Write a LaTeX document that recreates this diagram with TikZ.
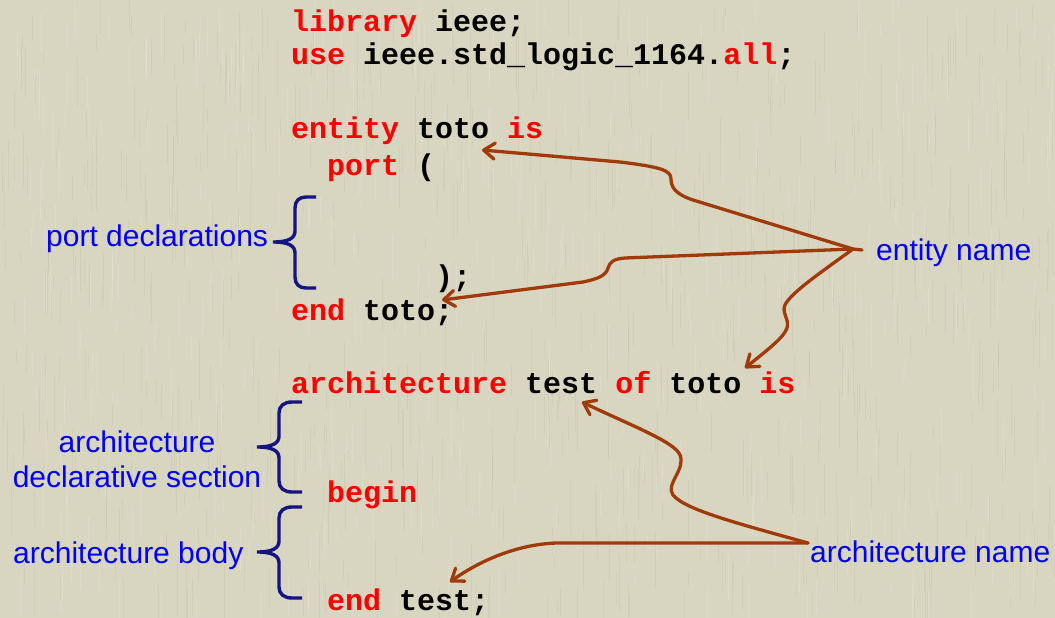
\documentclass[tikz,border=0pt]{standalone}
\usepackage{fontspec}
\setmainfont{Liberation Sans}
\newfontfamily\codefont{Liberation Mono}
\usetikzlibrary{arrows.meta}
\definecolor{bgc}{RGB}{216,214,192}
\definecolor{bgdark}{RGB}{190,188,162}
\definecolor{bglight}{RGB}{232,231,214}
\definecolor{kwred}{RGB}{255,0,0}
\definecolor{lblue}{RGB}{0,0,255}
\definecolor{brnavy}{RGB}{20,20,130}
\definecolor{arrbrown}{RGB}{160,58,10}
\newcommand{\kw}[1]{\textcolor{kwred}{#1}}
\begin{document}
\begin{tikzpicture}[x=1pt,y=-1pt,
  code/.style={anchor=base west, inner sep=0pt, font=\codefont\bfseries\fontsize{30}{36}\selectfont, text=black},
  lbl/.style={anchor=base west, inner sep=0pt, font=\fontsize{30}{35}\selectfont, text=lblue},
  lblc/.style={anchor=base, inner sep=0pt, font=\fontsize{30}{35}\selectfont, text=lblue},
  arr/.style={draw=arrbrown, line width=3.3pt, line cap=round, line join=round, -{Straight Barb[length=11pt,width=16pt,line cap=round,line join=round]}},
  bracepath/.style={draw=brnavy, line width=3.4pt},
  streakd/.style={draw=bgdark, line width=1pt, opacity=0.25},
  streakl/.style={draw=bglight, line width=1pt, opacity=0.35},
]
\fill[bgc] (0,0) rectangle (1055,618);
\useasboundingbox (0,0) rectangle (1055,618);
% paper texture
\pgfmathsetseed{7}
\foreach \i in {1,...,700}{
  \pgfmathsetmacro{\sx}{random(0,1055)}
  \pgfmathsetmacro{\sy}{random(0,600)}
  \pgfmathsetmacro{\sl}{random(10,60)}
  \draw[streakd] (\sx,\sy) -- ++(0,\sl);
}
\foreach \i in {1,...,500}{
  \pgfmathsetmacro{\sx}{random(0,1055)}
  \pgfmathsetmacro{\sy}{random(0,600)}
  \pgfmathsetmacro{\sl}{random(10,50)}
  \draw[streakl] (\sx,\sy) -- ++(0,\sl);
}

% code lines
\node[code] (l1) at (291,32) {\kw{library} ieee;};
\node[code] (l2) at (291,65) {\kw{use} ieee.std\_logic\_1164.\kw{all};};
\node[code] (l3) at (291,138) {\kw{entity} toto \kw{is}};
\node[code] (l4) at (327,175) {\kw{port} (};
\node[code] (l5) at (435,286) {);};
\node[code] (l6) at (291,320) {\kw{end} toto;};
\node[code] (l7) at (291,393) {\kw{architecture} test \kw{of} toto \kw{is}};
\node[code] (l8) at (327,502) {\kw{begin}};
\node[code] (l9) at (327,610) {\kw{end} test;};

% labels
\node[lbl] (portdecl) at (46,246) {port declarations};
\node[lblc] (archA) at (137,452) {architecture};
\node[lblc] (archB) at (137,487) {declarative section};
\node[lbl] (archbody) at (13,563) {architecture body};
\node[lbl] (entname) at (876,260) {entity name};
\node[lbl] (archname) at (810,562) {architecture name};

% braces
\draw[bracepath] (316,197) -- (306,197) .. controls (299,197) and (295,201) .. (295,208) -- (295,231)
  .. controls (295,238) and (289,242) .. (273,242) .. controls (289,242) and (295,246) .. (295,253)
  -- (295,277) .. controls (295,284) and (299,288) .. (306,288) -- (316,288);
\draw[bracepath] (302,402) -- (292,402) .. controls (284,402) and (279,406) .. (279,413) -- (279,436)
  .. controls (279,443) and (273,447) .. (257,447) .. controls (273,447) and (279,451) .. (279,458)
  -- (279,481) .. controls (279,488) and (284,492) .. (292,492) -- (302,492);
\draw[bracepath] (302,507) -- (292,507) .. controls (284,507) and (279,511) .. (279,518) -- (279,541)
  .. controls (279,548) and (273,552) .. (257,552) .. controls (273,552) and (279,556) .. (279,563)
  -- (279,587) .. controls (279,594) and (284,598) .. (292,598) -- (302,598);

% arrow origins and targets
\coordinate (eo) at (853,249);
\coordinate (eot) at (862,250);
\coordinate (t1) at (482,150);
\coordinate (t2) at (442,300);
\coordinate (t3) at (745,368);
\coordinate (ao) at (808,543);
\coordinate (t4) at (582,402);
\coordinate (t5) at (450,582);

\draw[arr] (eot) -- (eo) -- (693,200) .. controls (675,194) and (671,187) .. (671,179)
  .. controls (671,170) and (660,167) .. (620,162) -- (t1);
\draw[arr] (eo) -- (625,258) .. controls (613,259) and (610,262) .. (608,268)
  .. controls (606,276) and (597,279) .. (583,282) -- (t2);
\draw[arr] (eo) .. controls (820,273) and (795,290) .. (786,303)
  .. controls (780,312) and (790,319) .. (787,328) .. controls (784,337) and (770,348) .. (t3);
\draw[arr] (ao) .. controls (740,524) and (685,510) .. (673,495)
  .. controls (665,484) and (686,470) .. (680,455) .. controls (675,442) and (630,425) .. (t4);
\draw[arr] (ao) -- (557,543) .. controls (520,544) and (482,559) .. (t5);
\end{tikzpicture}
\end{document}
